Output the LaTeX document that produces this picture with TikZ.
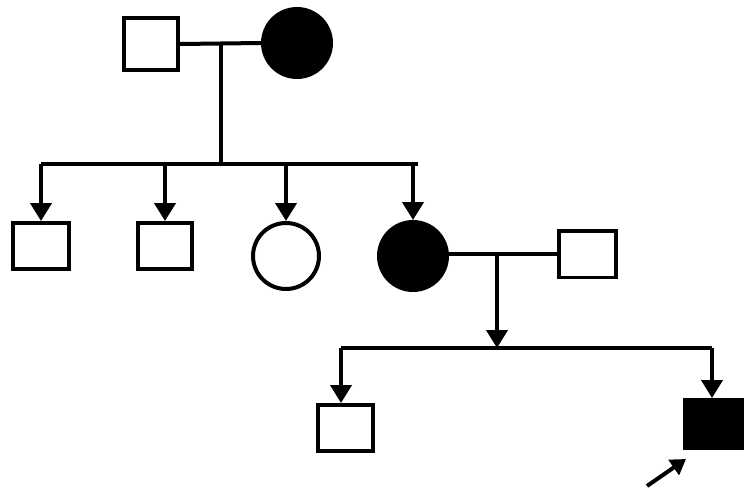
\documentclass[tikz,border=0pt]{standalone}
\usetikzlibrary{arrows.meta}
\begin{document}
\begin{tikzpicture}[x=0.02cm,y=-0.02cm,
  ln/.style={line width=0.08cm, line cap=butt},
  arr/.style={ln,-{Triangle[width=0.42cm,length=0.36cm]}},
  parr/.style={ln,-{Triangle[width=0.36cm,length=0.3cm]}},
  male/.style={draw,line width=0.08cm,rectangle,inner sep=0pt,minimum width=#1},
  female/.style={draw,line width=0.08cm,circle,inner sep=0pt,minimum size=#1},
  aff/.style={fill=black}]
\useasboundingbox (0,0) rectangle (750,490);
% generation I
\node[male=1.08cm,minimum height=1.06cm] (f1) at (151,44) {};
\node[female=1.36cm,aff] (m1) at (297,43) {};
\draw[ln] (f1.east) -- (m1.west);
\coordinate (d1) at (221,43);
\coordinate (s1) at (221,164);
\draw[ln] (d1) -- (s1);
\coordinate (sL) at (41,164);
\coordinate (sR) at (418,164);
\draw[ln] (sL) -- (sR);
% generation II
\node[male=1.14cm,minimum height=0.92cm] (c1) at (41,246) {};
\node[male=1.1cm,minimum height=0.92cm] (c2) at (165,246) {};
\node[female=1.32cm] (c3) at (286,256) {};
\node[female=1.36cm,aff] (c4) at (413,256) {};
\node[male=1.14cm,minimum height=0.94cm] (sp) at (587,254) {};
\foreach \c in {c1,c2,c3,c4}{\draw[arr] (\c.north |- sL) -- (\c.north);}
\coordinate (m2) at (497,254);
\draw[ln] (c4.east |- sp.west) -- (sp.west);
% generation III
\coordinate (tL) at (341,348);
\coordinate (tR) at (712,348);
\draw[arr] (m2) -- (m2 |- tL);
\draw[ln] (tL) -- (tR);
\node[male=1.1cm,minimum height=0.92cm] (g1) at (345,428) {};
\node[male=1.14cm,minimum height=0.96cm,aff] (g2) at (713,424) {};
\draw[arr] (tL) -- (tL |- g1.north);
\draw[arr] (tR) -- (tR |- g2.north);
% proband arrow
\coordinate (pa) at (647,486);
\coordinate (pb) at (686,459);
\draw[parr] (pa) -- (pb);
\end{tikzpicture}
\end{document}
